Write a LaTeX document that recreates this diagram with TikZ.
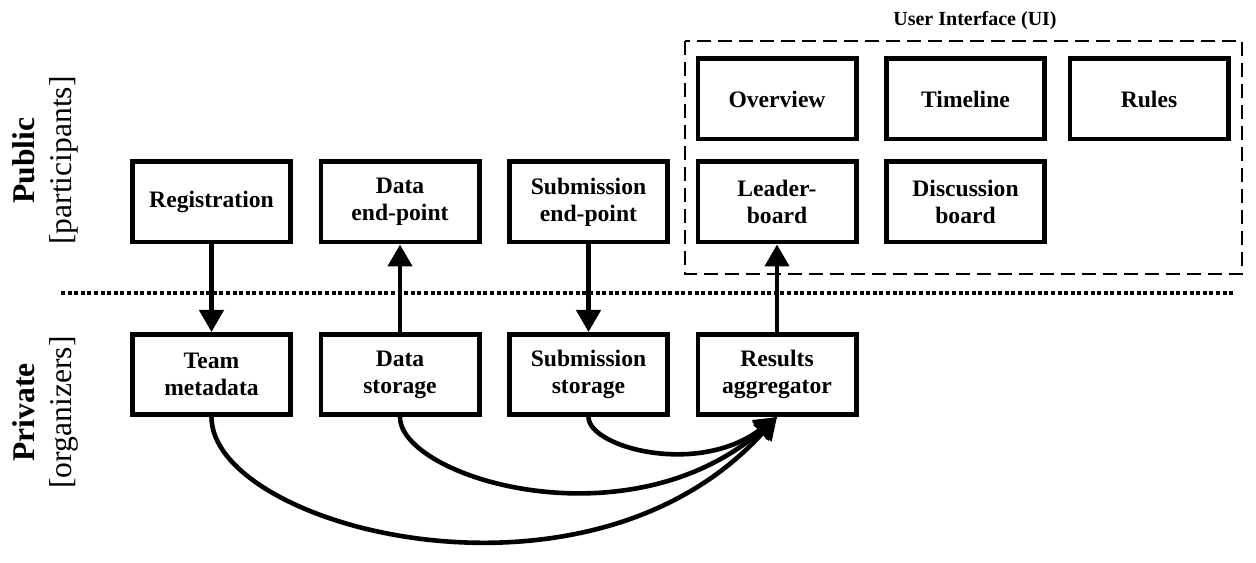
\documentclass[tikz,border=0pt]{standalone}
\usepackage{fontspec}
\setmainfont{Liberation Serif}
\usetikzlibrary{arrows.meta,positioning}

\tikzset{
  block/.style={draw, line width=2.3pt, minimum width=79.2pt, minimum height=40.2pt,
    inner sep=2pt, align=center, font=\fontsize{11.8}{13.5}\selectfont\bfseries},
  flow/.style={line width=2.3pt, -{Triangle[length=11pt,width=12pt]}},
  side/.style={rotate=90, align=center, font=\fontsize{15.8}{18.5}\selectfont},
  uibox/.style={draw, line width=1pt, dash pattern=on 7pt off 3.5pt},
  border/.style={line width=2.2pt, dash pattern=on 2pt off 1.3pt},
}

\begin{document}
\begin{tikzpicture}[x=0.5pt,y=0.5pt]
    \useasboundingbox (0,0) rectangle (1256,562);
    % public side
    \node[block] (reg) at (211.5,360) {Registration};
    \node[block] (dataend) [right=12.75pt of reg] {Data\\end-point};
    \node[block] (subend) [right=12.75pt of dataend] {Submission\\end-point};
    \node[block] (lead) [right=12.75pt of subend] {Leader-\\board};
    \node[block] (disc) [right=12.75pt of lead] {Discussion\\board};
    \node[block] (over) [above=9pt of lead] {Overview};
    \node[block] (timeline) [above=9pt of disc] {Timeline};
    \node[block] (rules) [right=10.25pt of timeline] {Rules};
    % private side
    \node[block] (team) [below=43.75pt of reg] {Team\\metadata};
    \node[block] (datastore) [below=43.75pt of dataend] {Data\\storage};
    \node[block] (substore) [below=43.75pt of subend] {Submission\\storage};
    \node[block] (res) [below=43.75pt of lead] {Results\\aggregator};
    % UI frame
    \draw[uibox] ([xshift=-5.5pt,yshift=7.5pt]over.north west) rectangle ([xshift=5.5pt,yshift=-15pt]rules.east |- lead.south);
    \node[font=\fontsize{10}{12}\selectfont\bfseries] (uititle) at (975,541) {User Interface (UI)};
    % divider
    \draw[border] (61,269) -- (1233,269);
    \node[side] (pub) at (45,401.5) {\textbf{Public}\\{[participants]}};
    \node[side] (priv) at (45,149.5) {\textbf{Private}\\{[organizers]}};
    % arrows
    \draw[flow] (reg) -- (team);
    \draw[flow] (datastore) -- (dataend);
    \draw[flow] (subend) -- (substore);
    \draw[flow] (res) -- (lead);
    \draw[flow] (team.south) .. controls +(0,-110) and +(-190,-210) .. (res.south);
    \draw[flow] (datastore.south) .. controls +(0,-60) and +(-150,-130) .. (res.south);
    \draw[flow] (substore.south) .. controls +(0,-30) and +(-80,-60) .. (res.south);
\end{tikzpicture}
\end{document}
